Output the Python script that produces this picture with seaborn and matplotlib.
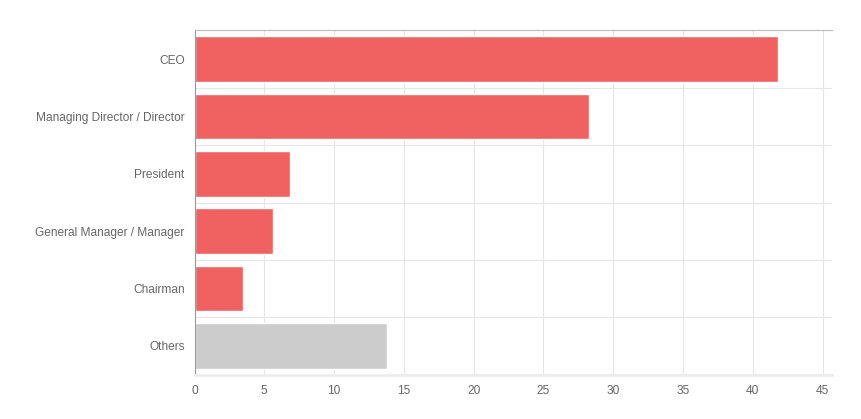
import matplotlib
matplotlib.use("Agg")
import matplotlib.pyplot as plt
import seaborn as sns
import numpy as np

# values
titles = ["CEO", "Managing Director / Director", "President",
          "General Manager / Manager", "Chairman", "Others"]
shares = [41.8, 28.25, 6.82, 5.6, 3.47, 13.79]
bar_colors = ["#f06262"] * 5 + ["#cccccc"]
x_ticks = [0, 5, 10, 15, 20, 25, 30, 35, 40, 45]

sns.set_style("white")
plt.rcParams['font.family'] = ['Liberation Sans', 'DejaVu Sans']

fig = plt.figure(figsize=(8.61, 4.19), dpi=100)
ax = fig.add_axes([194.5 / 861, 1 - 374.5 / 419, (832 - 194.5) / 861, (374.5 - 30.5) / 419])

sns.barplot(x=shares, y=titles, hue=titles, palette=bar_colors, legend=False,
            orient="h", width=0.8, saturation=1, ax=ax, zorder=2)

ax.set_xlim(0, 45.67)
ax.set_ylim(len(titles) - 0.5, -0.5)
ax.set_xticks(x_ticks)
ax.set_xticklabels([str(t) for t in x_ticks])
ax.set_yticks(range(len(titles)))
ax.set_yticklabels(titles)
ax.set_yticks(np.arange(-0.5, len(titles), 1.0), minor=True)

grid_c = "#e6e6e6"
ax.grid(True, axis="x", which="major", color=grid_c, linewidth=0.8, zorder=0)
ax.grid(True, axis="y", which="minor", color=grid_c, linewidth=0.8, zorder=0)
ax.grid(False, axis="y", which="major")
ax.set_axisbelow(True)

ax.tick_params(axis="x", which="major", length=3.6, color=grid_c, pad=3.6,
               labelsize=8.6, labelcolor="#666666")
ax.tick_params(axis="y", which="major", length=0, pad=7.2,
               labelsize=8.6, labelcolor="#666666")
ax.tick_params(axis="y", which="minor", length=3.6, color=grid_c)

ax.spines["right"].set_visible(False)
ax.spines["top"].set_color("#bbbbbb")
ax.spines["left"].set_color("#999999")
ax.spines["bottom"].set_color("#ececec")
ax.spines["bottom"].set_linewidth(2)
ax.set_xlabel("")
ax.set_ylabel("")

fig.savefig("out.png", dpi=100)
